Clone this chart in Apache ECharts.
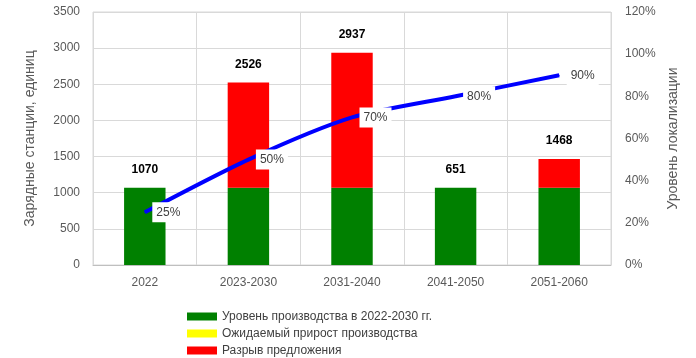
<!DOCTYPE html>
<html>
<head>
<meta charset="utf-8">
<script src="https://cdn.jsdelivr.net/npm/echarts@6/dist/echarts.min.js"></script>
<style>html,body{margin:0;padding:0;background:#fff}#c{width:696px;height:358px}</style>
</head>
<body>
<div id="c"></div>
<script>
var categories = ['2022', '2023-2030', '2031-2040', '2041-2050', '2051-2060'];
var production = [1070, 1070, 1070, 1070, 1070];
var expectedGrowth = [0, 0, 0, 0, 0];
var supplyGap = [0, 1456, 1867, 0, 398];
var totalLabels = [1070, 2526, 2937, 651, 1468];
var localization = [0.25, 0.50, 0.70, 0.80, 0.90];
var seriesNames = ['Уровень производства в 2022-2030 гг.', 'Ожидаемый прирост производства', 'Разрыв предложения'];

var FONT = 'Liberation Sans';
var chart = echarts.init(document.getElementById('c'), null, {renderer: 'canvas'});
chart.setOption({
  animation: false,
  textStyle: {fontFamily: FONT},
  grid: {left: 93, right: 85, top: 12, bottom: 93, show: true, borderColor: '#d9d9d9', borderWidth: 1},
  legend: {
    orient: 'vertical', left: 187, top: 310, itemWidth: 30, itemHeight: 8, itemGap: 4, padding: 0,
    data: seriesNames,
    textStyle: {fontFamily: FONT, fontSize: 12, color: '#404040', lineHeight: 13},
    icon: 'rect'
  },
  xAxis: {
    type: 'category', data: categories,
    axisLine: {lineStyle: {color: '#bfbfbf'}},
    axisTick: {show: false},
    axisLabel: {color: '#595959', fontSize: 12, margin: 12, fontFamily: FONT},
    splitLine: {show: true, lineStyle: {color: '#d9d9d9'}}
  },
  yAxis: [{
    type: 'value', min: 0, max: 3500, interval: 500,
    name: 'Зарядные станции, единиц', nameLocation: 'middle', nameGap: 56, nameRotate: 90,
    nameTextStyle: {color: '#595959', fontSize: 14, fontFamily: FONT},
    axisLabel: {color: '#595959', fontSize: 12, margin: 13, fontFamily: FONT,
      formatter: function (v) { return String(v); }},
    axisLine: {show: false}, axisTick: {show: false},
    splitLine: {lineStyle: {color: '#d9d9d9'}}
  }, {
    type: 'value', min: 0, max: 1.2, interval: 0.2,
    name: 'Уровень локализации', nameLocation: 'middle', nameGap: 52, nameRotate: 90,
    nameTextStyle: {color: '#595959', fontSize: 14, fontFamily: FONT},
    axisLabel: {color: '#595959', fontSize: 12, margin: 14, fontFamily: FONT,
      formatter: function (v) { return Math.round(v * 100) + '%'; }},
    axisLine: {show: false}, axisTick: {show: false},
    splitLine: {show: false}
  }],
  series: [{
    name: seriesNames[0], type: 'bar', stack: 's', data: production, barWidth: '40%',
    itemStyle: {color: '#008000'}
  }, {
    name: seriesNames[1], type: 'bar', stack: 's', data: expectedGrowth,
    itemStyle: {color: '#ffff00'}
  }, {
    name: seriesNames[2], type: 'bar', stack: 's', data: supplyGap,
    itemStyle: {color: '#ff0000'},
    label: {show: true, position: 'top', distance: 12, fontWeight: 'bold', fontSize: 12, color: '#000',
      fontFamily: FONT,
      formatter: function (p) { return String(totalLabels[p.dataIndex]); }}
  }, {
    name: 'Уровень локализации', type: 'line', yAxisIndex: 1, data: localization, smooth: 0.25,
    symbol: 'circle', symbolSize: 1, showSymbol: true,
    lineStyle: {color: '#0000ff', width: 4}, itemStyle: {color: '#0000ff'},
    z: 5,
    label: {show: true, position: 'right', distance: 7, color: '#404040', fontSize: 12, fontFamily: FONT,
      backgroundColor: '#fff', padding: [4, 4],
      formatter: function (p) { return Math.round(p.value * 100) + '%'; }}
  }]
});
</script>
</body>
</html>
